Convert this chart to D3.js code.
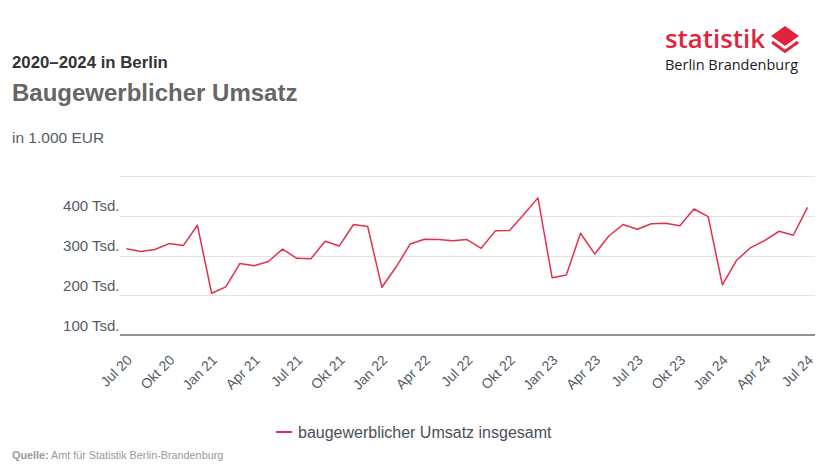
<!DOCTYPE html>
<html><head><meta charset="utf-8">
<script src="https://cdn.jsdelivr.net/npm/d3@7"></script>
<style>
body{margin:0;background:#fff;}
svg{display:block;font-family:"Liberation Sans",Arial,sans-serif;}
</style></head>
<body><svg id="c" width="826" height="465"></svg>
<script>
const months = ["Jul 20","Aug 20","Sep 20","Okt 20","Nov 20","Dez 20",
"Jan 21","Feb 21","Mär 21","Apr 21","Mai 21","Jun 21","Jul 21","Aug 21","Sep 21","Okt 21","Nov 21","Dez 21",
"Jan 22","Feb 22","Mär 22","Apr 22","Mai 22","Jun 22","Jul 22","Aug 22","Sep 22","Okt 22","Nov 22","Dez 22",
"Jan 23","Feb 23","Mär 23","Apr 23","Mai 23","Jun 23","Jul 23","Aug 23","Sep 23","Okt 23","Nov 23","Dez 23",
"Jan 24","Feb 24","Mär 24","Apr 24","Mai 24","Jun 24","Jul 24"];
const umsatz = [317,310,315,330,325,376,
205,221,280,274,285,316,293,292,336,324,378,373,
220,271,329,341,340,337,340,318,362,363,403,445,
244,251,356,304,349,378,366,380,381,375,417,398,
226,288,320,338,361,351,421];
const yTicks = [100,200,300,400];
const gridTicks = [200,300,400,500];
const seriesName = "baugewerblicher Umsatz insgesamt";

const svg = d3.select("#c");
const lineColor = "#e2304f";
const x = d3.scalePoint().domain(months).range([126.5, 807.5]);
const y = d3.scaleLinear().domain([100,500]).range([335,176]);
const plotL = 120, plotR = 815;

// titles
svg.append("text").attr("x",12).attr("y",68).attr("font-size",16.8).attr("font-weight","bold").attr("fill","#333").text("2020–2024 in Berlin");
svg.append("text").attr("x",12).attr("y",101).attr("font-size",24).attr("font-weight","bold").attr("fill","#666").text("Baugewerblicher Umsatz");
svg.append("text").attr("x",12).attr("y",143).attr("font-size",15.5).attr("fill","#555b66").text("in 1.000 EUR");

// logo
const logo = svg.append("g");
logo.append("text").attr("x",665).attr("y",48).attr("font-family","'Open Sans',sans-serif").attr("font-weight",600)
  .attr("font-size",26).attr("fill","#e2233d").attr("textLength",100).attr("lengthAdjust","spacingAndGlyphs").text("statistik");
logo.append("text").attr("x",665).attr("y",70).attr("font-family","'Open Sans',sans-serif")
  .attr("font-size",15).attr("fill","#1a1a1a").attr("textLength",133).attr("lengthAdjust","spacingAndGlyphs").text("Berlin Brandenburg");
logo.append("path").attr("d","M785,26 L799,36 L785,46 L771,36 Z").attr("fill","#e2233d");
logo.append("path").attr("d","M772,42 L785,51.5 L798,42").attr("fill","none").attr("stroke","#e2233d").attr("stroke-width",3).attr("stroke-linejoin","miter");

// grid
const grid = svg.append("g");
grid.selectAll("line").data(gridTicks).join("line")
  .attr("x1",plotL).attr("x2",plotR).attr("y1",d=>Math.round(y(d))+0.5).attr("y2",d=>Math.round(y(d))+0.5)
  .attr("stroke","#e3e3e3").attr("stroke-width",1);
svg.append("line").attr("x1",plotL).attr("x2",plotR).attr("y1",y(100)).attr("y2",y(100))
  .attr("stroke","#6e6e6e").attr("stroke-width",1.6);

// y axis labels
const yAxis = svg.append("g").attr("transform",`translate(${119.5},0)`)
  .call(d3.axisLeft(y).tickValues(yTicks).tickSize(0).tickPadding(0).tickFormat(d=>d+" Tsd."));
yAxis.select(".domain").remove();
yAxis.selectAll("text").attr("font-size",15).attr("fill","#555b66").attr("font-family","'Liberation Sans',Arial,sans-serif")
  .attr("dy","-0.33em").attr("x",0);

// x axis labels
const xAxis = svg.append("g").attr("transform","translate(0,335)")
  .call(d3.axisBottom(x).tickValues(months.filter((d,i)=>i%3===0)).tickSize(0).tickPadding(0));
xAxis.select(".domain").remove();
xAxis.selectAll(".tick text").attr("font-size",14).attr("fill","#555b66").attr("font-family","'Liberation Sans',Arial,sans-serif")
  .attr("text-anchor","end").attr("dy",0).attr("y",0)
  .attr("transform","translate(6,26) rotate(-45)");

// line
svg.append("path").datum(umsatz)
  .attr("d", d3.line().x((d,i)=>x(months[i])).y(d=>y(d)))
  .attr("fill","none").attr("stroke",lineColor).attr("stroke-width",1.5).attr("stroke-linejoin","round");

// legend
svg.append("line").attr("x1",276).attr("x2",292).attr("y1",432).attr("y2",432).attr("stroke",lineColor).attr("stroke-width",2);
svg.append("text").attr("x",298).attr("y",438).attr("font-size",16).attr("fill","#4a4f5a").text(seriesName);

// source
const src = svg.append("text").attr("x",12).attr("y",459).attr("font-size",10.8).attr("fill","#999");
src.append("tspan").attr("font-weight","bold").text("Quelle:");
src.append("tspan").text(" Amt für Statistik Berlin-Brandenburg");
</script></body></html>
